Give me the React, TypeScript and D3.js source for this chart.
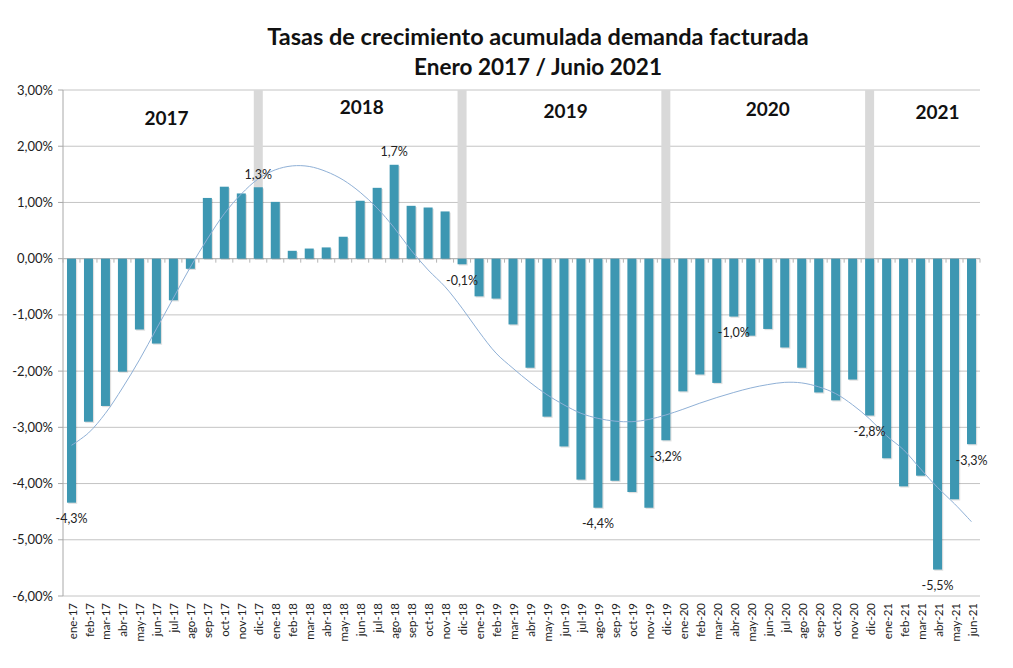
import * as d3 from 'd3';

// months ene-17 .. jun-21
const months = [
  'ene-17', 'feb-17', 'mar-17', 'abr-17', 'may-17', 'jun-17', 'jul-17', 'ago-17', 'sep-17', 'oct-17', 'nov-17', 'dic-17',
  'ene-18', 'feb-18', 'mar-18', 'abr-18', 'may-18', 'jun-18', 'jul-18', 'ago-18', 'sep-18', 'oct-18', 'nov-18', 'dic-18',
  'ene-19', 'feb-19', 'mar-19', 'abr-19', 'may-19', 'jun-19', 'jul-19', 'ago-19', 'sep-19', 'oct-19', 'nov-19', 'dic-19',
  'ene-20', 'feb-20', 'mar-20', 'abr-20', 'may-20', 'jun-20', 'jul-20', 'ago-20', 'sep-20', 'oct-20', 'nov-20', 'dic-20',
  'ene-21', 'feb-21', 'mar-21', 'abr-21', 'may-21', 'jun-21',
];

// accumulated growth rate (%)
const growth = [
  -4.34, -2.9, -2.62, -2.01, -1.26, -1.51, -0.74, -0.18, 1.08, 1.28, 1.16, 1.27,
  1.01, 0.14, 0.18, 0.2, 0.39, 1.03, 1.26, 1.67, 0.94, 0.91, 0.84, -0.1,
  -0.67, -0.71, -1.17, -1.94, -2.81, -3.34, -3.93, -4.43, -3.95, -4.15, -4.43, -3.23,
  -2.36, -2.06, -2.21, -1.03, -1.37, -1.25, -1.58, -1.94, -2.38, -2.52, -2.15, -2.79,
  -3.55, -4.05, -3.86, -5.53, -4.28, -3.3,
];

// trend line (%)
const trend = [
  -3.32, -3.1, -2.75, -2.3, -1.8, -1.25, -0.7, -0.15, 0.35, 0.8, 1.15, 1.42,
  1.58, 1.65, 1.64, 1.55, 1.4, 1.18, 0.9, 0.55, 0.15, -0.2, -0.5, -0.88,
  -1.3, -1.68, -1.95, -2.2, -2.42, -2.6, -2.75, -2.84, -2.89, -2.9, -2.86, -2.78,
  -2.68, -2.57, -2.47, -2.38, -2.3, -2.24, -2.2, -2.21, -2.28, -2.4, -2.6, -2.85,
  -3.15, -3.4, -3.74, -4.07, -4.36, -4.68,
];

const yTicks = [3, 2, 1, 0, -1, -2, -3, -4, -5, -6];
const separators = ['dic-17', 'dic-18', 'dic-19', 'dic-20'];
const labeled = ['ene-17', 'dic-17', 'ago-18', 'dic-18', 'ago-19', 'dic-19', 'abr-20', 'dic-20', 'abr-21', 'jun-21'];
const years = ['2017', '2018', '2019', '2020', '2021'];

const FONT = 'Lato, "Open Sans", sans-serif';
const fmtTick = (v: number) => v.toFixed(2).replace('.', ',') + '%';
const fmtLabel = (v: number) => v.toFixed(1).replace('.', ',') + '%';

export default function App() {
  const W = 1013, H = 668;
  const left = 63, right = 980, top = 90, bottom = 596;

  const x = d3.scaleBand<string>().domain(months).range([left, right]).paddingInner(0.47).paddingOuter(0.235);
  const y = d3.scaleLinear().domain([-6, 3]).range([bottom, top]);
  const xc = (m: string) => (x(m) ?? 0) + x.bandwidth() / 2;
  const step = x.step();

  const trendLine = d3.line<number>()
    .x((_, i) => xc(months[i]))
    .y(d => y(d))
    .curve(d3.curveCatmullRom);

  // layout of the year captions: fractional month index and value height
  const yearPos = [[5.6, 2.49], [17.1, 2.7], [29.1, 2.62], [41, 2.65], [51, 2.6]];

  return (
    <svg width={W} height={H} style={{ position: 'absolute', left: 0, top: 0, background: '#fff' }} fontFamily={FONT}>
      <text x={538} y={45} textAnchor="middle" fontSize={23.5} fontWeight="bold" fill="#111">
        Tasas de crecimiento acumulada demanda facturada
      </text>
      <text x={538} y={75} textAnchor="middle" fontSize={22.5} fontWeight="bold" fill="#111">
        Enero 2017 / Junio 2021
      </text>

      {/* gridlines */}
      {yTicks.map(t => (
        <line key={t} x1={left} x2={right} y1={y(t)} y2={y(t)} stroke="#c4c4c4" strokeWidth={1} />
      ))}
      {/* left axis */}
      <line x1={left} x2={left} y1={top} y2={bottom} stroke="#a8a8a8" />
      {yTicks.map(t => (
        <g key={'t' + t}>
          <line x1={left - 5} x2={left} y1={y(t)} y2={y(t)} stroke="#a8a8a8" />
          <text x={53} y={y(t)} dy="0.35em" textAnchor="end" fontSize={13} fill="#222">{fmtTick(t)}</text>
        </g>
      ))}

      {/* year separators */}
      {separators.map(m => (
        <rect key={m} x={x(m)} y={y(3)} width={x.bandwidth()} height={y(0) - y(3)} fill="#d9d9d9" />
      ))}

      {/* zero axis with category ticks */}
      <line x1={left} x2={right} y1={y(0)} y2={y(0)} stroke="#b5b5b5" />
      {d3.range(months.length + 1).map(i => (
        <line key={'c' + i} x1={left + i * step} x2={left + i * step} y1={y(0)} y2={y(0) + 4} stroke="#b5b5b5" />
      ))}

      {/* bars */}
      {months.map((m, i) => {
        const v = growth[i];
        const y0 = Math.min(y(0), y(v));
        const h = Math.abs(y(v) - y(0));
        return (
          <g key={m}>
            <rect x={(x(m) ?? 0) + 1.2} y={y0 + 1.2} width={x.bandwidth()} height={h} fill="#000" opacity={0.12} />
            <rect x={x(m)} y={y0} width={x.bandwidth()} height={h} fill="#3d97b2" />
          </g>
        );
      })}

      {/* trend */}
      <path d={trendLine(trend) ?? ''} fill="none" stroke="#8fb0d6" strokeWidth={1} />

      {/* data labels */}
      {labeled.map(m => {
        const v = growth[months.indexOf(m)];
        const ly = v >= 0 ? y(v) - 13 : y(v) + 16;
        return (
          <text key={'l' + m} x={xc(m)} y={ly} dy="0.35em" textAnchor="middle" fontSize={12.5} fill="#222">
            {fmtLabel(v)}
          </text>
        );
      })}

      {/* year captions */}
      {years.map((yr, i) => (
        <text key={yr} x={left + (yearPos[i][0] + 0.5) * step} y={y(yearPos[i][1])} dy="0.35em"
          textAnchor="middle" fontSize={19} fontWeight="bold" fill="#111">{yr}</text>
      ))}

      {/* month labels */}
      {months.map(m => (
        <text key={'x' + m} transform={`translate(${xc(m) + 1},${bottom + 7}) rotate(-90)`}
          dy="0.35em" textAnchor="end" fontSize={11.5} fill="#222">{m}</text>
      ))}
    </svg>
  );
}
